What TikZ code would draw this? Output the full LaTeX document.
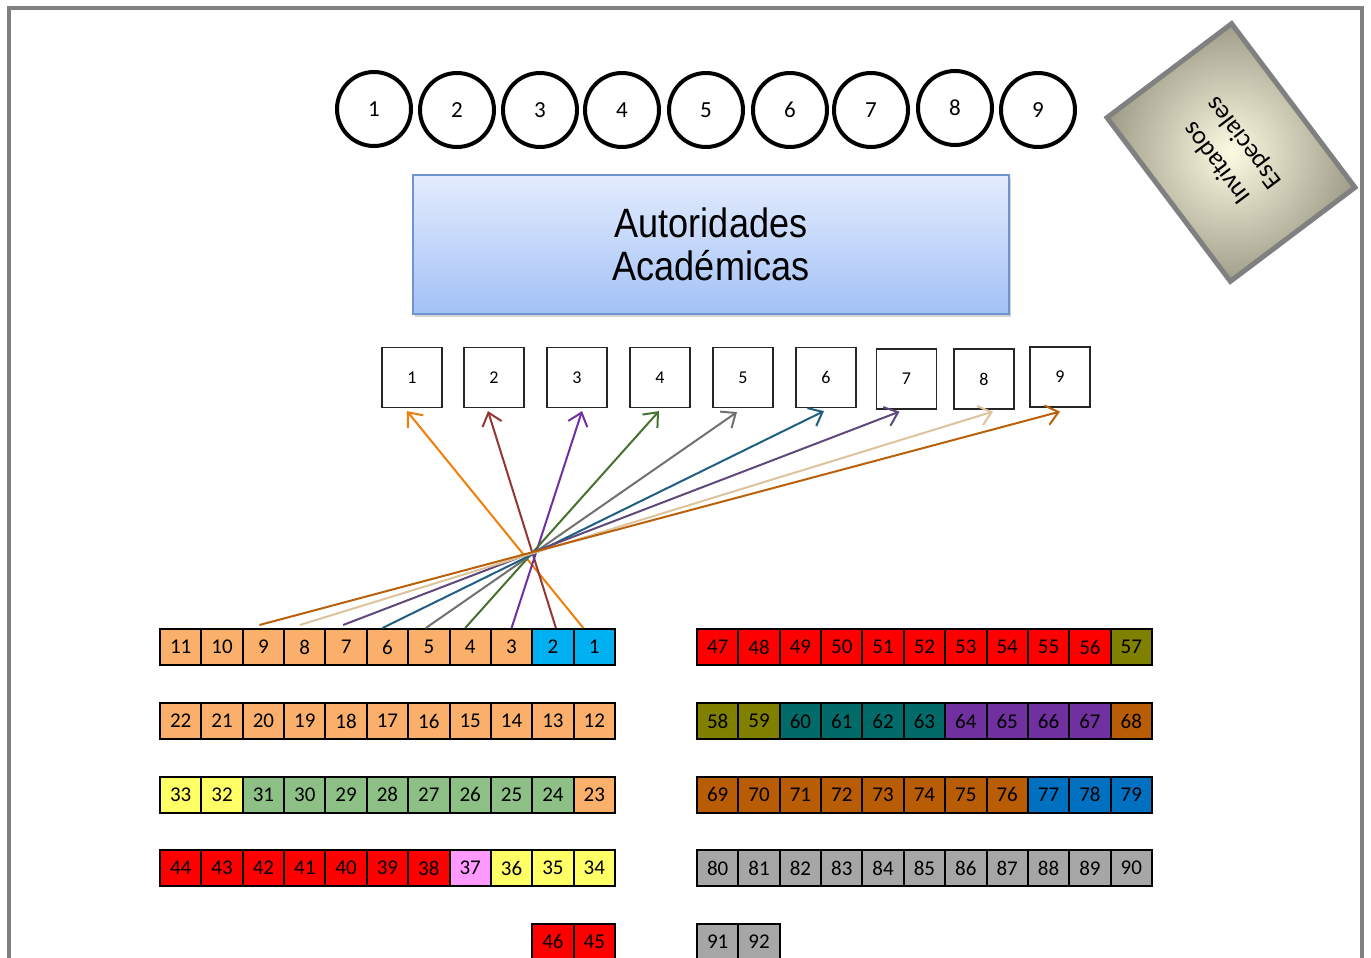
\documentclass[tikz,border=0pt]{standalone}
\usepackage{fontspec}
\setmainfont{Carlito}
\newfontfamily\arialf{Liberation Sans}
\usetikzlibrary{arrows.meta,shadows}
\definecolor{org}{HTML}{FAB06B}
\definecolor{cyn}{HTML}{00B0F0}
\definecolor{rd}{HTML}{FF0000}
\definecolor{olv}{HTML}{808000}
\definecolor{tel}{HTML}{006B68}
\definecolor{prp}{HTML}{7030A0}
\definecolor{brn}{HTML}{B85C05}
\definecolor{blu}{HTML}{0070C0}
\definecolor{gry}{HTML}{A6A6A6}
\definecolor{ylw}{HTML}{FFFF66}
\definecolor{grn}{HTML}{8CC084}
\definecolor{pnk}{HTML}{FF99FF}
\definecolor{aA}{HTML}{F07F09}
\definecolor{aB}{HTML}{943634}
\definecolor{aC}{HTML}{7030A0}
\definecolor{aD}{HTML}{46712F}
\definecolor{aE}{HTML}{707070}
\definecolor{aF}{HTML}{1F5F84}
\definecolor{aG}{HTML}{5F497A}
\definecolor{aH}{HTML}{DDC39C}
\definecolor{aI}{HTML}{B9600A}
\newcommand\seatrow[3]{\foreach \lab/\col [count=\i from 0] in {#3} {\node[seat, fill=\col] (seat\lab) at ({#1+41.36*(\i+0.5)}, #2) {\lab};}}
\begin{document}
\begin{tikzpicture}[x=1pt,y=-1pt,
  seat/.style={draw=black, line width=2pt, minimum width=41.36pt, minimum height=36pt, inner sep=0pt, font=\fontsize{21}{21}\selectfont},
  chair/.style={circle, draw=black, line width=4pt, minimum size=74pt, inner sep=0pt, font=\fontsize{23}{23}\selectfont},
  sqbox/.style={draw=black!85, line width=1.2pt, minimum width=60pt, minimum height=60pt, inner sep=0pt, font=\fontsize{18}{18}\selectfont},
  conn/.style={line width=2pt, -{Straight Barb[length=12pt,width=20pt]}}
]
\useasboundingbox (0,0) rectangle (1371,958);
\clip (0,0) rectangle (1371,958);
\draw[line width=4.5pt, color=black!50] (9,8) rectangle (1362,1000);

% chairs
\foreach \n/\x/\y in {1/374/109,2/457/110,3/540/110,4/622/110,5/706/110,6/790/110,7/871/110,8/955/108,9/1038/110}
  \node[chair] (c\n) at (\x,\y) {\n};

% authorities
\node[draw={rgb,255:red,111;green,148;blue,207}, line width=1.5pt, top color={rgb,255:red,228;green,236;blue,253}, bottom color={rgb,255:red,162;green,193;blue,246},
  minimum width=596pt, minimum height=139pt, drop shadow={shadow xshift=2pt, shadow yshift=-3pt, opacity=0.35},
  align=center, font=\arialf\fontsize{41}{45}\selectfont] (auth) at (711,244.5)
  {\scalebox{0.88}[1]{Autoridades}\\[-2pt]\scalebox{0.88}[1]{Académicas}};

% special guests
\node[draw=black!50, line width=5pt, inner color={rgb,255:red,253;green,250;blue,226}, outer color={rgb,255:red,160;green,158;blue,138},
  minimum width=205pt, minimum height=156pt, rotate=127, align=center, font=\fontsize{26}{34}\selectfont] (guests) at (1231,152.5)
  {Invitados\\Especiales};

% small boxes
\foreach \n/\x/\y in {1/412/377.5,2/494/377.5,3/577/377.5,4/660/377.5,5/743/377.5,6/826/377.5,7/906.5/379,8/984/379,9/1060/377}
  \node[sqbox] (sq\n) at (\x,\y) {\n};

% seats
\seatrow{160}{647}{11/org,10/org,9/org,8/org,7/org,6/org,5/org,4/org,3/org,2/cyn,1/cyn}
\seatrow{160}{721}{22/org,21/org,20/org,19/org,18/org,17/org,16/org,15/org,14/org,13/org,12/org}
\seatrow{160}{794.5}{33/ylw,32/ylw,31/grn,30/grn,29/grn,28/grn,27/grn,26/grn,25/grn,24/grn,23/org}
\seatrow{160}{868}{44/rd,43/rd,42/rd,41/rd,40/rd,39/rd,38/rd,37/pnk,36/ylw,35/ylw,34/ylw}
\seatrow{532.24}{941.5}{46/rd,45/rd}
\seatrow{697}{647}{47/rd,48/rd,49/rd,50/rd,51/rd,52/rd,53/rd,54/rd,55/rd,56/rd,57/olv}
\seatrow{697}{721}{58/olv,59/olv,60/tel,61/tel,62/tel,63/tel,64/prp,65/prp,66/prp,67/prp,68/brn}
\seatrow{697}{794.5}{69/brn,70/brn,71/brn,72/brn,73/brn,74/brn,75/brn,76/brn,77/blu,78/blu,79/blu}
\seatrow{697}{868}{80/gry,81/gry,82/gry,83/gry,84/gry,85/gry,86/gry,87/gry,88/gry,89/gry,90/gry}
\seatrow{697}{941.5}{91/gry,92/gry}

% connectors
\draw[conn, aA] ([xshift=-11pt]seat1.north) -- ([xshift=-5pt,yshift=-3pt]sq1.south);
\draw[conn, aB] ([xshift=3pt]seat2.north) -- ([xshift=-6pt,yshift=-3pt]sq2.south);
\draw[conn, aC] ([xshift=0pt]seat3.north) -- ([xshift=5pt,yshift=-3pt]sq3.south);
\draw[conn, aD] ([xshift=-5pt]seat4.north) -- ([xshift=-1pt,yshift=-3pt]sq4.south);
\draw[conn, aE] ([xshift=-3pt]seat5.north) -- ([xshift=-6pt,yshift=-4pt]sq5.south);
\draw[conn, aF] ([xshift=-5pt]seat6.north) -- ([xshift=-2pt,yshift=-3pt]sq6.south);
\draw[conn, aG] ([xshift=-3pt,yshift=3pt]seat7.north) -- ([xshift=-7pt,yshift=-2pt]sq7.south);
\draw[conn, aH] ([xshift=-5pt,yshift=3pt]seat8.north) -- ([xshift=9pt,yshift=-2pt]sq8.south);
\draw[conn, aI] ([xshift=-4pt,yshift=3pt]seat9.north) -- ([xshift=0pt,yshift=-4pt]sq9.south);
\end{tikzpicture}
\end{document}
